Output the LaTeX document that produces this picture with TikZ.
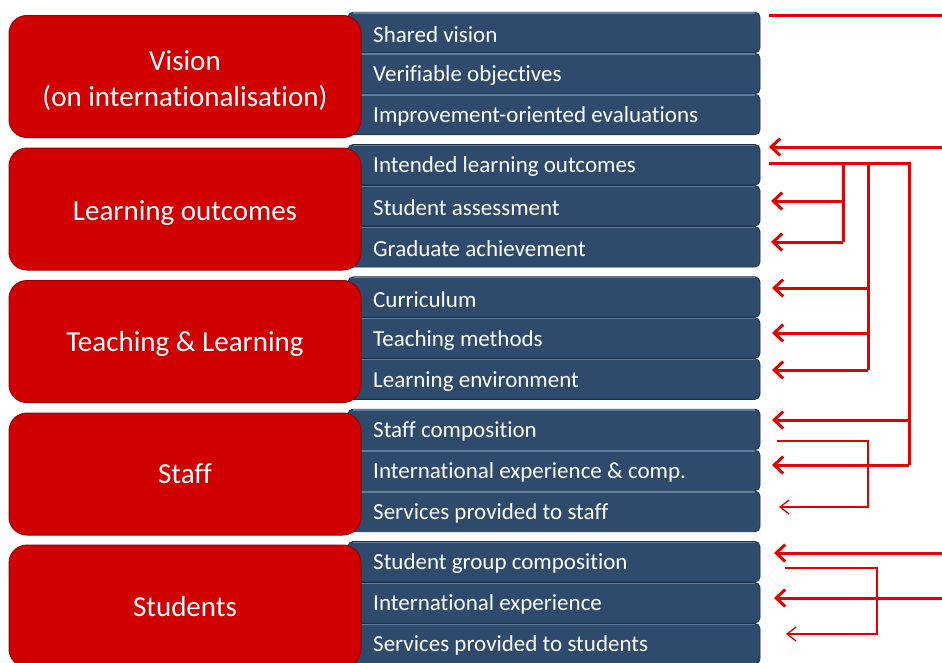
\documentclass[tikz,border=0pt]{standalone}
\usepackage{fontspec}
\setmainfont{Carlito}[Ligatures=NoCommon]
\usetikzlibrary{arrows.meta}
\definecolor{rfill}{RGB}{208,0,0}
\definecolor{rline}{RGB}{160,0,0}
\definecolor{bfill}{RGB}{46,74,108}
\definecolor{bline}{RGB}{28,48,74}
\definecolor{btop}{RGB}{95,125,160}
\definecolor{arr}{RGB}{228,0,0}
\tikzset{
  redbox/.style={draw=rline, line width=1pt, fill=rfill, rounded corners=18pt,
    minimum width=352pt, minimum height=122pt, inner sep=0pt},
  redtxt/.style={text=white, anchor=base, font=\fontsize{29}{36}\selectfont, inner sep=0pt},
  bluerow/.style={draw=bline, line width=0.8pt, fill=bfill, rounded corners=5pt,
    minimum width=412pt, minimum height=40.5pt, inner sep=0pt},
  bluetxt/.style={text=white, anchor=west, font=\fontsize{23}{27}\selectfont, inner sep=0pt},
  thick arrow/.style={draw=arr, line width=3pt, -{Straight Barb[length=9pt,width=17pt,line width=3pt]}},
  thick line/.style={draw=arr, line width=3pt},
  thin arrow/.style={draw=arr, line width=1.3pt, -{Straight Barb[length=9pt,width=14pt,line width=1.3pt]}},
}
\begin{document}
\begin{tikzpicture}[x=1pt,y=-1pt]
\useasboundingbox[fill=white] (0,0) rectangle (942,662);
% blue groups
\foreach \g/\ta/\tb/\tc in {0/Shared vision/Verifiable objectives/Improvement-oriented evaluations,
  1/Intended learning outcomes/Student assessment/Graduate achievement,
  2/Curriculum/Teaching methods/Learning environment,
  3/Staff composition/International experience \& comp./Services provided to staff,
  4/Student group composition/International experience/Services provided to students}{
  \pgfmathsetmacro{\yt}{12+\g*132.3}
  \foreach \r/\t in {0/\ta,1/\tb,2/\tc}{
    \pgfmathsetmacro{\yc}{\yt+20.5+\r*41}
    \node[bluerow] (b\g\r) at (554,\yc) {};
    \draw[btop, line width=1.2pt] ([xshift=5pt,yshift=-1.2pt]b\g\r.north west) -- ([xshift=-5pt,yshift=-1.2pt]b\g\r.north east);
    \node[bluetxt] (t\g\r) at (373,\yc+2) {\t};
  }
}
% red boxes
\node[redbox] (v0) at (185,76.5) {};
\node[redbox] (v1) at (185,209) {};
\node[redbox] (v2) at (185,341.5) {};
\node[redbox] (v3) at (185,474) {};
\node[redbox] (v4) at (185,606) {};
\node[redtxt] (v0a) at (185,70) {Vision};
\node[redtxt] (v0b) at (185,106) {(on internationalisation)};
\node[redtxt] (v1t) at (185,220) {Learning outcomes};
\node[redtxt] (v2t) at (185,351) {Teaching \& Learning};
\node[redtxt] (v3t) at (185,483) {Staff};
\node[redtxt] (v4t) at (185,616) {Students};
% connector coordinates
\coordinate (p0a) at (769,15);  \coordinate (p0b) at (942,15);
\coordinate (p1a) at (942,147); \coordinate (p1b) at (769,147);
\coordinate (s0) at (769,163);
\coordinate (k1) at (843,163); \coordinate (k2) at (868,163); \coordinate (k3) at (909,163);
\coordinate (k1b) at (843,242); \coordinate (k1m) at (843,201);
\coordinate (k2b) at (868,370); \coordinate (k2m) at (868,288); \coordinate (k2n) at (868,333);
\coordinate (k3b) at (909,465); \coordinate (k3m) at (909,420);
\coordinate (e1) at (771,201); \coordinate (e2) at (771,242);
\coordinate (e3) at (772,288); \coordinate (e4) at (772,333); \coordinate (e5) at (772,370);
\coordinate (e6) at (772,420); \coordinate (e7) at (772,465);
\coordinate (f0) at (777,441); \coordinate (f1) at (868,441); \coordinate (f2) at (868,507); \coordinate (f3) at (779,507);
\coordinate (g0) at (942,553); \coordinate (g1) at (774,553);
\coordinate (h0) at (942,598); \coordinate (h1) at (774,598);
\coordinate (m0) at (785,568); \coordinate (m1) at (877,568); \coordinate (m2) at (877,634); \coordinate (m3) at (786,634);
% connectors
\draw[thick line] (p0a) -- (p0b);
\draw[thick arrow] (p1a) -- (p1b);
\draw[thick line, line join=miter] (s0) -- (k3) -- (k3b);
\draw[thick line] (k1) -- (k1b);
\draw[thick line] (k2) -- (k2b);
\draw[thick arrow] (k1m) -- (e1);
\draw[thick arrow] (k1b) -- (e2);
\draw[thick arrow] (k2m) -- (e3);
\draw[thick arrow] (k2n) -- (e4);
\draw[thick arrow] (k2b) -- (e5);
\draw[thick arrow] (k3m) -- (e6);
\draw[thick arrow] (k3b) -- (e7);
\draw[thin arrow] (f0) -- (f1) -- (f2) -- (f3);
\draw[thick arrow] (g0) -- (g1);
\draw[thick arrow] (h0) -- (h1);
\draw[thin arrow] (m0) -- (m1) -- (m2) -- (m3);
\end{tikzpicture}
\end{document}
